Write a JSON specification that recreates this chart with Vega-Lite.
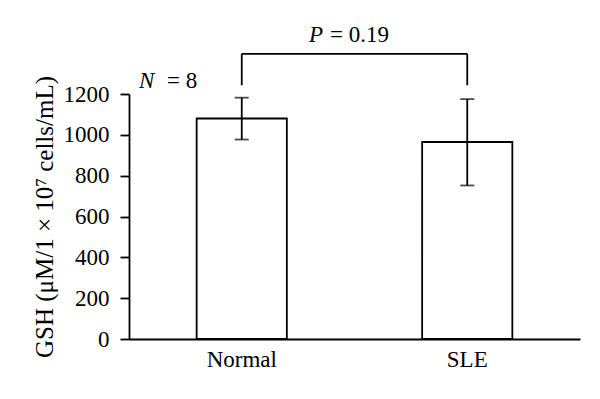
{
  "$schema": "https://vega.github.io/schema/vega-lite/v6.json",
  "width": 451,
  "height": 245,
  "autosize": {"type": "none"},
  "padding": {"left": 129, "top": 94, "right": 20, "bottom": 60},
  "background": "white",
  "config": {
    "view": {"stroke": null},
    "font": "Liberation Serif",
    "axis": {
      "grid": false,
      "domainColor": "#000",
      "domainWidth": 1.8,
      "tickColor": "#000",
      "tickWidth": 1.8,
      "labelFont": "Liberation Serif",
      "labelFontSize": 23,
      "labelColor": "#000",
      "titleFont": "Liberation Serif",
      "titleFontSize": 25,
      "titleFontWeight": "normal",
      "titleColor": "#000"
    }
  },
  "data": {
    "values": [
      {"group": "Normal", "mean": 1080, "lower": 977, "upper": 1182},
      {"group": "SLE", "mean": 965, "lower": 752, "upper": 1175}
    ]
  },
  "encoding": {
    "x": {
      "field": "group",
      "type": "nominal",
      "scale": {"domain": ["Normal", "SLE"], "paddingInner": 0.6, "paddingOuter": 0.3},
      "axis": {"title": null, "ticks": false, "labelAngle": 0, "labelPadding": 9}
    }
  },
  "layer": [
    {
      "mark": {"type": "bar", "fill": "white", "stroke": "#000", "strokeWidth": 1.8},
      "encoding": {
        "y": {
          "field": "mean",
          "type": "quantitative",
          "scale": {"domain": [0, 1200], "nice": false},
          "axis": {
            "title": "GSH (μM/1 × 10⁷ cells/mL)",
            "values": [0, 200, 400, 600, 800, 1000, 1200],
            "format": "d",
            "tickSize": 9,
            "labelPadding": 11,
            "titlePadding": 6
          }
        }
      }
    },
    {
      "mark": {"type": "rule", "color": "#000", "strokeWidth": 1.8},
      "encoding": {
        "y": {"field": "lower", "type": "quantitative"},
        "y2": {"field": "upper"}
      }
    },
    {
      "mark": {"type": "tick", "color": "#000", "size": 14, "thickness": 1.8},
      "encoding": {"y": {"field": "lower", "type": "quantitative"}}
    },
    {
      "mark": {"type": "tick", "color": "#000", "size": 14, "thickness": 1.8},
      "encoding": {"y": {"field": "upper", "type": "quantitative"}}
    },
    {
      "data": {"values": [{"from": "Normal", "to": "SLE"}]},
      "mark": {"type": "rule", "color": "#000", "strokeWidth": 1.8, "clip": false},
      "encoding": {
        "x": {"field": "from", "type": "nominal"},
        "x2": {"field": "to"},
        "y": {"datum": 1397}
      }
    },
    {
      "mark": {"type": "rule", "color": "#000", "strokeWidth": 1.8, "clip": false},
      "encoding": {
        "y": {"datum": 1243},
        "y2": {"datum": 1397}
      }
    },
    {
      "data": {"values": [{"part": "P"}]},
      "mark": {"type": "text", "font": "Liberation Serif", "fontSize": 23, "fontStyle": "italic", "fontWeight": 400, "align": "right", "baseline": "alphabetic", "fill": "#000", "strokeWidth": 0},
      "encoding": {
        "x": {"datum": "Normal", "bandPosition": 1.401},
        "y": {"datum": 1456},
        "text": {"field": "part"}
      }
    },
    {
      "data": {"values": [{"part": "= 0.19"}]},
      "mark": {"type": "text", "font": "Liberation Serif", "fontSize": 23, "fontWeight": 400, "align": "left", "baseline": "alphabetic", "fill": "#000", "strokeWidth": 0},
      "encoding": {
        "x": {"datum": "Normal", "bandPosition": 1.478},
        "y": {"datum": 1456},
        "text": {"field": "part"}
      }
    },
    {
      "data": {"values": [{"part": "N"}]},
      "mark": {"type": "text", "font": "Liberation Serif", "fontSize": 23, "fontStyle": "italic", "fontWeight": 400, "align": "left", "baseline": "alphabetic", "fill": "#000", "strokeWidth": 0},
      "encoding": {
        "x": {"datum": "Normal", "bandPosition": -0.639},
        "y": {"datum": 1231},
        "text": {"field": "part"}
      }
    },
    {
      "data": {"values": [{"part": "= 8"}]},
      "mark": {"type": "text", "font": "Liberation Serif", "fontSize": 23, "fontWeight": 400, "align": "left", "baseline": "alphabetic", "fill": "#000", "strokeWidth": 0},
      "encoding": {
        "x": {"datum": "Normal", "bandPosition": -0.329},
        "y": {"datum": 1231},
        "text": {"field": "part"}
      }
    }
  ]
}
